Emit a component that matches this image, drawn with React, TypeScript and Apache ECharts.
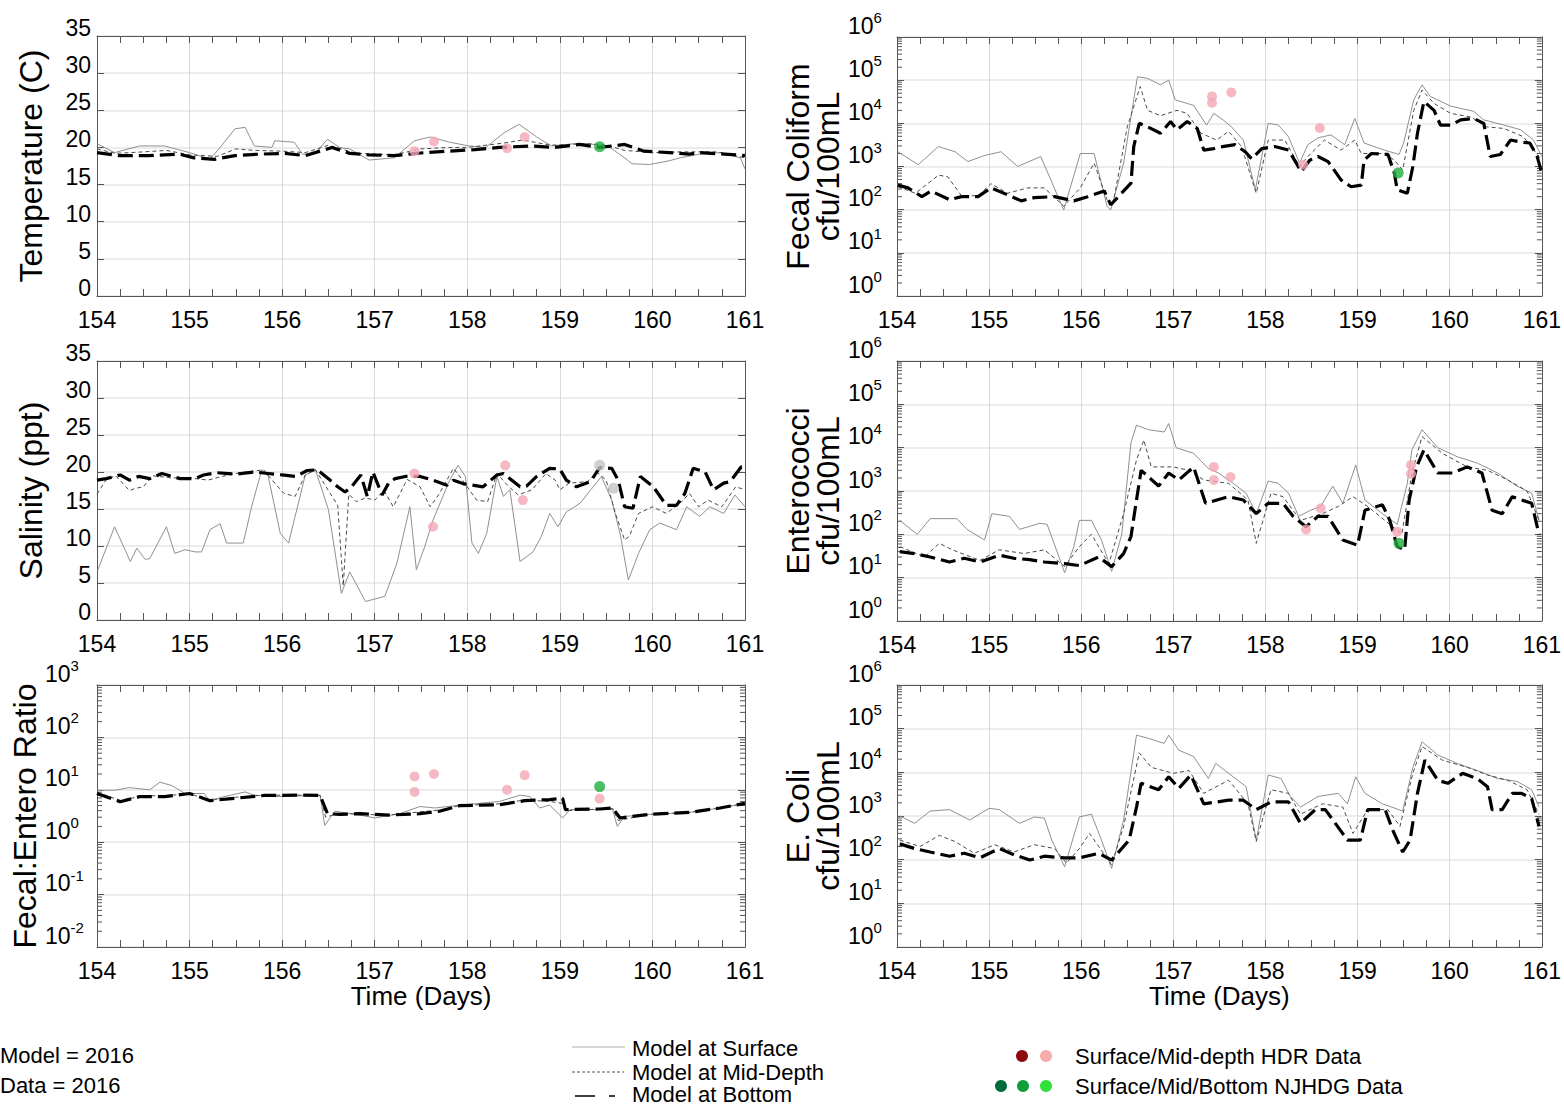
import React, { useEffect, useRef } from 'react';
import * as echarts from 'echarts';

// ---------------- data (time in days, value) ----------------
const dayTicks = [154, 155, 156, 157, 158, 159, 160, 161];

const tempSurface = [[154.0,20.5],[154.19,19.3],[154.46,20.2],[154.73,20.2],[155.0,19.3],[155.22,18.4],[155.33,20.0],[155.49,22.5],[155.6,22.7],[155.7,20.2],[155.89,20.0],[155.92,20.9],[156.13,20.7],[156.22,19.1],[156.35,19.1],[156.49,21.1],[156.62,20.0],[156.73,19.8],[156.94,18.3],[157.21,18.6],[157.43,20.9],[157.6,21.4],[157.81,20.7],[158.02,20.2],[158.2,20.0],[158.4,22.0],[158.56,23.1],[158.75,21.4],[158.91,20.2],[159.15,20.5],[159.32,20.5],[159.54,20.0],[159.7,18.6],[159.78,17.8],[159.97,17.7],[160.18,18.2],[160.3,18.6],[160.51,19.1],[160.73,19.3],[160.95,18.6],[161.0,17.1]];
const tempMid = [[154.0,19.8],[154.2,19.2],[154.5,19.4],[154.75,19.6],[155.0,19.0],[155.3,18.8],[155.5,19.8],[155.7,19.6],[156.0,19.5],[156.25,19.3],[156.5,20.3],[156.8,19.2],[157.2,19.0],[157.5,19.8],[157.8,20.0],[158.0,20.0],[158.4,20.6],[158.6,21.0],[158.9,20.3],[159.3,20.5],[159.5,20.3],[159.7,19.6],[160.0,19.3],[160.3,19.4],[160.7,19.4],[161.0,18.6]];
const tempBottom = [[154.0,19.3],[154.24,18.9],[154.56,18.9],[154.89,19.1],[155.05,18.6],[155.27,18.4],[155.49,18.9],[155.76,19.1],[156.03,19.2],[156.25,18.9],[156.54,20.0],[156.73,19.2],[156.94,19.0],[157.21,18.9],[157.54,19.3],[157.81,19.5],[158.08,19.7],[158.35,20.0],[158.68,20.2],[158.94,20.0],[159.21,20.4],[159.43,20.0],[159.7,20.4],[159.91,19.5],[160.18,19.3],[160.4,19.1],[160.51,19.3],[160.78,19.1],[161.0,18.9]];
const tempHdr = [[157.43,19.5],[157.64,20.8],[158.43,19.9],[158.62,21.4]];
const tempNjhdg = [[159.43,20.1]];

const salSurface = [[154.01,6.8],[154.19,12.6],[154.36,7.9],[154.43,9.7],[154.52,8.2],[154.57,8.3],[154.75,12.6],[154.84,9.0],[154.95,9.5],[155.06,9.2],[155.13,9.2],[155.22,12.2],[155.33,13.0],[155.4,10.4],[155.58,10.4],[155.67,15.3],[155.78,20.3],[155.85,19.4],[155.98,11.7],[156.07,10.4],[156.14,14.0],[156.25,19.6],[156.36,20.3],[156.5,14.9],[156.64,3.6],[156.73,6.5],[156.9,2.5],[157.11,3.2],[157.24,7.7],[157.38,15.3],[157.45,6.8],[157.54,9.9],[157.63,13.5],[157.81,18.9],[157.9,20.9],[157.98,19.4],[158.05,10.4],[158.12,9.0],[158.21,11.7],[158.32,19.4],[158.39,16.7],[158.46,17.6],[158.57,7.9],[158.71,9.2],[158.8,11.3],[158.89,14.4],[158.98,12.6],[159.07,14.6],[159.22,15.8],[159.36,18.0],[159.45,19.4],[159.56,16.2],[159.65,11.7],[159.74,5.4],[159.85,9.0],[159.97,12.2],[160.08,13.1],[160.26,12.2],[160.37,15.3],[160.51,14.0],[160.62,15.3],[160.77,14.4],[160.89,16.9],[161.0,15.3]];
const salMid = [[154.0,17.0],[154.1,19.0],[154.2,19.5],[154.35,17.5],[154.42,17.8],[154.5,18.0],[154.6,19.5],[154.8,19.2],[155.0,19.2],[155.2,18.9],[155.35,19.4],[155.5,19.8],[155.8,20.3],[155.92,18.5],[156.02,17.1],[156.14,16.7],[156.25,19.6],[156.36,20.3],[156.5,17.5],[156.6,15.5],[156.66,4.6],[156.72,17.0],[156.8,16.0],[156.9,16.5],[157.0,16.2],[157.1,17.5],[157.2,15.3],[157.35,19.0],[157.49,18.0],[157.6,15.3],[157.7,17.1],[157.85,20.5],[157.95,18.9],[158.1,16.2],[158.22,16.0],[158.32,19.8],[158.45,18.0],[158.55,16.9],[158.7,17.6],[158.85,19.8],[158.95,18.9],[159.0,17.6],[159.1,18.5],[159.3,18.7],[159.4,20.0],[159.5,18.9],[159.6,14.4],[159.7,10.8],[159.75,11.3],[159.85,14.4],[160.0,15.3],[160.15,14.4],[160.3,15.8],[160.4,17.1],[160.5,15.3],[160.6,16.2],[160.75,15.3],[160.9,18.0],[161.0,17.6]];
const salBottom = [[154.0,18.9],[154.1,19.1],[154.25,19.6],[154.35,18.9],[154.45,19.4],[154.57,19.1],[154.7,19.8],[154.9,19.1],[155.06,19.1],[155.15,19.6],[155.3,19.9],[155.5,19.7],[155.7,20.0],[155.85,19.8],[156.0,19.6],[156.15,19.4],[156.27,20.2],[156.38,20.3],[156.5,19.1],[156.6,18.0],[156.68,17.3],[156.75,18.0],[156.85,19.6],[156.92,16.7],[156.98,20.0],[157.08,16.9],[157.15,18.5],[157.22,19.1],[157.33,19.4],[157.49,19.4],[157.63,18.9],[157.78,18.2],[157.85,18.9],[157.96,18.4],[158.17,18.0],[158.32,19.6],[158.39,19.8],[158.57,18.0],[158.64,18.1],[158.75,19.4],[158.89,20.5],[159.0,20.4],[159.07,18.9],[159.18,18.0],[159.33,18.7],[159.43,20.6],[159.56,20.5],[159.63,18.9],[159.7,15.3],[159.79,15.1],[159.87,19.4],[160.01,18.0],[160.15,15.5],[160.26,15.5],[160.35,17.1],[160.44,20.5],[160.57,20.0],[160.66,17.6],[160.77,18.5],[160.84,18.7],[160.96,20.7],[161.0,20.5]];
const salHdr = [[157.43,19.8],[157.63,12.6],[158.41,20.9],[158.6,16.2]];
const salNjhdg = [[159.43,20.9],[159.58,17.8]];

const ratioSurface = [[154.0,9.8],[154.19,9.8],[154.35,11],[154.57,10],[154.68,14],[154.81,12],[154.95,8.5],[155.16,8.5],[155.22,5.9],[155.33,7.1],[155.6,9.1],[155.7,7.9],[155.92,7.4],[156.41,7.9],[156.46,2.1],[156.57,3.9],[156.84,3.3],[157.0,2.9],[157.27,3.5],[157.49,4.8],[157.65,4.5],[157.92,5.1],[158.35,6.0],[158.57,7.9],[158.68,7.4],[158.78,4.5],[158.89,5.1],[159.03,2.9],[159.11,4.2],[159.57,4.2],[159.62,2.0],[159.7,3.1],[159.97,3.4],[160.4,3.7],[160.73,4.5],[161.0,5.5]];
const ratioMid = [[154.0,8.9],[154.25,6.3],[154.5,7.6],[154.75,7.8],[155.0,8.3],[155.22,6.5],[155.5,7.2],[155.8,7.9],[156.2,7.9],[156.41,7.8],[156.47,3.0],[156.62,3.6],[156.84,3.4],[157.16,3.3],[157.49,3.8],[157.7,4.1],[157.92,5.0],[158.35,5.4],[158.62,6.4],[158.89,6.0],[159.03,5.5],[159.08,4.0],[159.43,4.3],[159.57,4.4],[159.63,2.6],[159.97,3.4],[160.4,3.7],[160.73,4.5],[161.0,5.5]];
const ratioBottom = [[154.0,8.5],[154.25,5.9],[154.46,7.4],[154.73,7.4],[155.0,8.5],[155.22,6.2],[155.49,6.9],[155.81,7.8],[156.19,7.9],[156.41,7.8],[156.49,3.5],[156.62,3.4],[156.84,3.5],[157.16,3.3],[157.49,3.5],[157.7,3.9],[157.92,5.0],[158.35,5.2],[158.62,6.2],[158.89,6.5],[159.03,6.9],[159.06,4.2],[159.43,4.3],[159.57,4.5],[159.65,2.9],[159.97,3.4],[160.4,3.7],[160.73,4.5],[161.0,5.5]];
const ratioHdr = [[157.43,18],[157.43,9.1],[157.64,20],[158.43,10],[158.62,19],[159.43,6.8]];
const ratioNjhdg = [[159.43,11.5]];

const fecalSurface = [[154.01,2200],[154.23,1100],[154.45,2900],[154.63,2200],[154.77,1300],[154.95,1800],[155.13,2200],[155.31,1000],[155.56,1700],[155.67,490],[155.81,98],[155.99,2000],[156.14,2000],[156.28,120],[156.32,98],[156.46,1200],[156.61,120000],[156.72,110000],[156.86,78000],[156.95,100000],[157.02,35000],[157.22,26000],[157.36,9100],[157.44,17000],[157.54,12000],[157.63,8300],[157.76,4100],[157.89,290],[158.03,10000],[158.14,9100],[158.25,4900],[158.37,1200],[158.46,3200],[158.57,4600],[158.71,5400],[158.86,3200],[158.97,13000],[159.07,3500],[159.29,2400],[159.45,1900],[159.5,3500],[159.61,35000],[159.7,78000],[159.79,42000],[160.01,25000],[160.26,19000],[160.37,12000],[160.59,9100],[160.77,7100],[160.91,4100],[161.0,1700]];
const fecalMid = [[154.01,340],[154.2,240],[154.45,630],[154.55,580],[154.7,210],[154.88,210],[155.02,400],[155.2,240],[155.42,320],[155.6,320],[155.81,120],[155.99,320],[156.14,1200],[156.28,170],[156.34,120],[156.5,8300],[156.64,71000],[156.72,20000],[156.86,15000],[157.04,20000],[157.15,17000],[157.3,5900],[157.47,4100],[157.6,6500],[157.74,2900],[157.9,240],[158.03,4100],[158.21,4100],[158.37,1000],[158.46,1700],[158.64,4100],[158.82,2400],[158.97,4100],[159.04,2000],[159.29,2000],[159.4,1400],[159.49,830],[159.61,20000],[159.7,59000],[159.83,29000],[160.01,17000],[160.23,14000],[160.4,8300],[160.59,7600],[160.8,4900],[161.0,1400]];
const fecalBottom = [[154.01,370],[154.12,320],[154.27,200],[154.37,270],[154.57,170],[154.7,200],[154.88,200],[155.02,320],[155.2,220],[155.35,160],[155.49,190],[155.71,200],[155.92,160],[156.07,200],[156.25,270],[156.32,130],[156.54,410],[156.57,2900],[156.63,10000],[156.72,8300],[156.86,5900],[156.97,11000],[157.04,7100],[157.15,11000],[157.26,7600],[157.33,2400],[157.44,2600],[157.49,2800],[157.67,3200],[157.78,2200],[157.85,1500],[157.96,2600],[158.1,2900],[158.25,2400],[158.39,760],[158.48,1400],[158.57,1700],[158.68,1300],[158.82,490],[158.93,340],[159.04,370],[159.07,1400],[159.15,2000],[159.33,1900],[159.4,690],[159.43,290],[159.54,240],[159.6,1000],[159.65,5900],[159.72,32000],[159.83,20000],[159.9,9100],[160.01,9100],[160.12,12000],[160.26,13000],[160.37,10000],[160.44,1700],[160.55,1900],[160.66,4100],[160.77,3700],[160.87,3500],[160.95,1700],[161.0,690]];
const fecalHdr = [[157.42,42000],[157.42,30000],[157.63,52000],[158.41,1100],[158.59,7800]];
const fecalNjhdg = [[159.44,710]];

const enteroSurface = [[154.03,210],[154.22,100],[154.36,230],[154.65,230],[154.76,130],[154.95,74],[155.03,300],[155.22,260],[155.33,130],[155.55,180],[155.63,170],[155.82,13],[155.92,52],[155.98,210],[156.11,210],[156.22,74],[156.33,14],[156.44,100],[156.54,13000],[156.6,33000],[156.73,26000],[156.9,23000],[156.95,36000],[157.03,10000],[157.22,7400],[157.38,3300],[157.49,2600],[157.65,1500],[157.79,890],[157.9,300],[158.03,1700],[158.14,1500],[158.25,890],[158.36,260],[158.49,360],[158.6,440],[158.73,1300],[158.84,520],[158.98,4000],[159.08,620],[159.27,300],[159.43,170],[159.54,1500],[159.59,8900],[159.7,26000],[159.87,10000],[160.08,6200],[160.3,4400],[160.52,2600],[160.73,1300],[160.89,890],[160.97,210]];
const enteroMid = [[154.03,52],[154.3,30],[154.46,62],[154.6,44],[154.9,25],[155.11,44],[155.38,36],[155.6,44],[155.82,18],[155.98,52],[156.11,100],[156.3,21],[156.46,300],[156.6,5200],[156.68,15000],[156.76,3600],[157.0,3600],[157.17,3000],[157.33,1800],[157.6,1500],[157.81,620],[157.9,62],[158.06,890],[158.19,740],[158.38,210],[158.62,300],[158.79,440],[158.95,740],[159.11,440],[159.38,150],[159.48,100],[159.59,2600],[159.7,18000],[159.92,7400],[160.19,3600],[160.41,3000],[160.63,1800],[160.84,1000],[160.97,210]];
const enteroBottom = [[154.03,40],[154.19,36],[154.36,30],[154.57,23],[154.73,28],[154.9,23],[155.11,33],[155.27,28],[155.44,26],[155.6,23],[155.82,21],[155.98,19],[156.19,30],[156.33,18],[156.46,36],[156.54,89],[156.6,620],[156.65,3000],[156.84,1300],[156.95,2600],[157.06,1800],[157.22,3600],[157.35,520],[157.6,740],[157.76,620],[157.9,300],[158.03,520],[158.19,520],[158.3,260],[158.44,150],[158.57,260],[158.68,260],[158.84,74],[159.0,56],[159.08,360],[159.27,480],[159.35,210],[159.43,52],[159.51,44],[159.56,620],[159.64,3600],[159.72,8900],[159.87,2600],[160.03,2600],[160.19,3600],[160.35,2600],[160.46,360],[160.57,300],[160.68,740],[160.78,620],[160.89,520],[160.97,100]];
const enteroHdr = [[157.44,3600],[157.44,1800],[157.62,2100],[158.44,130],[158.6,400],[159.43,115],[159.58,4000],[159.58,2500]];
const enteroNjhdg = [[159.45,62]];

const ecoliSurface = [[154.03,1000],[154.19,680],[154.36,1300],[154.57,1400],[154.79,810],[155.0,1500],[155.11,1400],[155.33,680],[155.49,950],[155.6,890],[155.68,280],[155.82,69],[155.98,950],[156.11,1100],[156.22,280],[156.33,63],[156.46,810],[156.6,71000],[156.73,60000],[156.9,46000],[156.95,71000],[157.06,32000],[157.22,23000],[157.38,7200],[157.46,16000],[157.65,7900],[157.79,4700],[157.9,280],[158.03,8700],[158.17,7200],[158.27,2800],[158.38,1600],[158.57,2800],[158.79,3300],[158.89,1900],[158.98,7900],[159.08,3300],[159.27,1900],[159.49,1300],[159.6,13000],[159.7,50000],[159.87,25000],[160.08,16000],[160.3,11000],[160.52,7200],[160.73,6200],[160.89,4000],[160.97,1600]];
const ecoliMid = [[154.03,280],[154.25,200],[154.46,360],[154.63,260],[154.84,140],[155.06,220],[155.27,150],[155.49,220],[155.71,180],[155.84,83],[155.98,180],[156.09,400],[156.33,76],[156.46,580],[156.63,28000],[156.76,13000],[157.0,9500],[157.17,11000],[157.33,3300],[157.6,6600],[157.81,1900],[157.9,260],[158.06,4000],[158.25,3300],[158.38,1100],[158.62,1900],[158.84,1600],[158.95,400],[159.11,1400],[159.33,1400],[159.46,580],[159.6,9500],[159.7,39000],[159.92,19000],[160.19,13000],[160.41,8700],[160.63,6600],[160.84,4000],[160.97,1100]];
const ecoliBottom = [[154.03,230],[154.19,180],[154.36,150],[154.57,120],[154.73,140],[154.9,110],[155.11,180],[155.27,130],[155.44,98],[155.6,120],[155.82,110],[155.98,110],[156.19,140],[156.33,98],[156.52,280],[156.6,1600],[156.65,5600],[156.84,4000],[156.95,7900],[157.06,4300],[157.19,8700],[157.33,1900],[157.6,2300],[157.76,2300],[157.9,1400],[158.06,2100],[158.25,2100],[158.38,680],[158.54,1400],[158.65,1400],[158.81,480],[158.89,280],[159.03,280],[159.11,1400],[159.3,1400],[159.38,480],[159.49,150],[159.57,280],[159.65,3300],[159.73,19000],[159.87,6600],[159.98,5600],[160.14,9500],[160.3,7200],[160.41,4700],[160.46,1400],[160.57,1400],[160.68,3300],[160.78,3300],[160.89,2500],[160.97,580]];

// ---------------- styling ----------------
const FONT = "'Liberation Sans', Arial, Helvetica, sans-serif";
const AX = '#555555';
const PINK = '#f4a8b4';
const GREEN = '#1fae3c';
const GRAYPT = '#c4c4c4';
const LOG_MANTISSA = [2, 3, 4, 5, 6, 7, 8, 9];

type Panel = {
  left: number; top: number; height: number; log: boolean; min: number; max: number;
  name: string; xName: string; surface: number[][]; mid: number[][]; bottom: number[][];
  hdr: number[][]; njhdg: number[][]; njColor: string;
};

const panels: Panel[] = [
  { left: 97, top: 36, height: 260, log: false, min: 0, max: 35, name: 'Temperature (C)', xName: '', surface: tempSurface, mid: tempMid, bottom: tempBottom, hdr: tempHdr, njhdg: tempNjhdg, njColor: GREEN },
  { left: 897, top: 37, height: 259, log: true, min: 1, max: 1e6, name: 'Fecal Coliform\ncfu/100mL', xName: '', surface: fecalSurface, mid: fecalMid, bottom: fecalBottom, hdr: fecalHdr, njhdg: fecalNjhdg, njColor: GREEN },
  { left: 97, top: 361, height: 259, log: false, min: 0, max: 35, name: 'Salinity (ppt)', xName: '', surface: salSurface, mid: salMid, bottom: salBottom, hdr: salHdr, njhdg: salNjhdg, njColor: GRAYPT },
  { left: 897, top: 361, height: 260, log: true, min: 1, max: 1e6, name: 'Enterococci\ncfu/100mL', xName: '', surface: enteroSurface, mid: enteroMid, bottom: enteroBottom, hdr: enteroHdr, njhdg: enteroNjhdg, njColor: GREEN },
  { left: 97, top: 685, height: 262, log: true, min: 0.01, max: 1000, name: 'Fecal:Entero Ratio', xName: 'Time (Days)', surface: ratioSurface, mid: ratioMid, bottom: ratioBottom, hdr: ratioHdr, njhdg: ratioNjhdg, njColor: GREEN },
  { left: 897, top: 685, height: 262, log: true, min: 1, max: 1e6, name: 'E. Coli\ncfu/100mL', xName: 'Time (Days)', surface: ecoliSurface, mid: ecoliMid, bottom: ecoliBottom, hdr: [], njhdg: [], njColor: GREEN },
];

function logLabel(v: number) {
  const e = Math.round(Math.log10(v));
  return `{b|10}{s|${e}}`;
}

function buildOption() {
  const grid: any[] = [];
  const xAxis: any[] = [];
  const yAxis: any[] = [];
  const series: any[] = [];
  const tickStyle = { color: AX, width: 1 };
  panels.forEach((p, i) => {
    grid.push({ left: p.left, top: p.top, width: 648, height: p.height });
    xAxis.push({
      gridIndex: i, type: 'value', min: dayTicks[0], max: dayTicks[dayTicks.length - 1], interval: 1, position: 'bottom',
      name: p.xName, nameLocation: 'middle', nameGap: 36,
      nameTextStyle: { fontSize: 26, fontFamily: FONT, color: '#000' },
      axisLine: { show: true, onZero: false, lineStyle: tickStyle },
      axisTick: { show: true, inside: true, length: 7, lineStyle: tickStyle },
      minorTick: { show: true, splitNumber: 4, length: 7, lineStyle: tickStyle },
      axisLabel: { margin: 12, fontSize: 23, color: '#000', fontFamily: FONT },
      splitLine: { show: true, lineStyle: { color: '#dadada', width: 1 } },
    });
    xAxis.push({
      gridIndex: i, type: 'value', min: dayTicks[0], max: dayTicks[dayTicks.length - 1], interval: 1, position: 'top',
      axisLine: { show: true, onZero: false, lineStyle: tickStyle },
      axisTick: { show: true, inside: true, length: 7, lineStyle: tickStyle },
      minorTick: { show: true, splitNumber: 4, length: 7, lineStyle: tickStyle },
      axisLabel: { show: false }, splitLine: { show: false },
    });
    const yBase: any = p.log
      ? { type: 'log', logBase: 10, min: p.min, max: p.max, splitNumber: Math.round(Math.log10(p.max / p.min)) }
      : { type: 'value', min: p.min, max: p.max, interval: 5 };
    yAxis.push({
      ...yBase, gridIndex: i, position: 'left',
      name: p.name, nameLocation: 'middle', nameGap: p.log && p.name.includes('\n') ? 52 : 51,
      nameTextStyle: { fontSize: 32, fontFamily: FONT, color: '#000', lineHeight: 30 },
      axisLine: { show: true, onZero: false, lineStyle: tickStyle },
      axisTick: { show: true, inside: true, length: 7, lineStyle: tickStyle },
      axisLabel: p.log
        ? {
            formatter: logLabel, align: 'left', verticalAlign: 'bottom', margin: p.left < 500 ? 52 : 49,
            rich: {
              b: { fontSize: 23, fontFamily: FONT, color: '#000', lineHeight: 18, verticalAlign: 'bottom' },
              s: { fontSize: 15, fontFamily: FONT, color: '#000', lineHeight: 14, padding: [0, 0, 12, 0], verticalAlign: 'bottom' },
            },
          }
        : { margin: 6, fontSize: 23, color: '#000', fontFamily: FONT, verticalAlign: 'bottom', lineHeight: 16 },
      splitLine: { show: true, lineStyle: { color: '#e6e6e6', width: 1.5 } },
    });
    yAxis.push({
      ...yBase, gridIndex: i, position: 'right',
      axisLine: { show: true, onZero: false, lineStyle: tickStyle },
      axisTick: { show: true, inside: true, length: 7, lineStyle: tickStyle },
      axisLabel: { show: false }, splitLine: { show: false },
    });
    const xi = i * 2;
    const yi = i * 2;
    series.push({ type: 'line', xAxisIndex: xi, yAxisIndex: yi, data: p.surface, symbol: 'none', z: 2,
      lineStyle: { color: '#8f8f8f', width: 1 } });
    series.push({ type: 'line', xAxisIndex: xi, yAxisIndex: yi, data: p.mid, symbol: 'none', z: 3,
      lineStyle: { color: '#4a4a4a', width: 1, type: [4, 3] } });
    series.push({ type: 'line', xAxisIndex: xi, yAxisIndex: yi, data: p.bottom, symbol: 'none', z: 4,
      lineStyle: { color: '#000', width: 3.2, type: [15, 6] } });
    if (p.hdr.length) series.push({ type: 'scatter', xAxisIndex: xi, yAxisIndex: yi, data: p.hdr, symbol: 'circle', symbolSize: 10, z: 5,
      itemStyle: { color: PINK } });
    if (p.njhdg.length) series.push({ type: 'scatter', xAxisIndex: xi, yAxisIndex: yi, data: p.njhdg, symbol: 'circle', symbolSize: 11, z: 6,
      itemStyle: { color: p.njColor } });
    if (p.log) {
      const ticks: number[][] = [];
      const e0 = Math.round(Math.log10(p.min));
      const e1 = Math.round(Math.log10(p.max));
      for (let e = e0; e < e1; e++) for (const m of LOG_MANTISSA) ticks.push([154, m * Math.pow(10, e)]);
      series.push({
        type: 'custom', xAxisIndex: xi, yAxisIndex: yi, data: ticks, silent: true, z: 1,
        encode: { x: 0, y: 1 },
        renderItem: (_params: any, api: any) => {
          const v = api.value(1);
          const l = api.coord([154, v]);
          const r = api.coord([161, v]);
          return {
            type: 'group',
            children: [
              { type: 'line', shape: { x1: l[0], y1: l[1], x2: l[0] + 5, y2: l[1] }, style: { stroke: AX, lineWidth: 1 } },
              { type: 'line', shape: { x1: r[0] - 5, y1: r[1], x2: r[0], y2: r[1] }, style: { stroke: AX, lineWidth: 1 } },
            ],
          };
        },
      });
    }
  });

  const txt = (text: string, x: number, y: number, size = 22) => ({
    type: 'text', x, y, silent: true,
    style: { text, fontSize: size, fontFamily: FONT, fill: '#000', align: 'left', verticalAlign: 'middle', textAlign: 'left', textVerticalAlign: 'middle' },
  });
  const graphic: any[] = [
    txt('Model = 2016', 0, 1055),
    txt('Data = 2016', 0, 1085),
    { type: 'line', shape: { x1: 572, y1: 1047, x2: 625, y2: 1047 }, style: { stroke: '#c8c8c8', lineWidth: 1.5 } },
    { type: 'line', shape: { x1: 572, y1: 1072, x2: 624, y2: 1072 }, style: { stroke: '#555', lineWidth: 1, lineDash: [3, 2] } },
    { type: 'line', shape: { x1: 575, y1: 1096, x2: 622, y2: 1096 }, style: { stroke: '#000', lineWidth: 1.5, lineDash: [20, 14, 6, 40] } },
    txt('Model at Surface', 632, 1048),
    txt('Model at Mid-Depth', 632, 1072),
    txt('Model at Bottom', 632, 1094),
    { type: 'circle', shape: { cx: 1022, cy: 1056, r: 6 }, style: { fill: '#8b0a0a' } },
    { type: 'circle', shape: { cx: 1046, cy: 1056, r: 6 }, style: { fill: '#f7aaa8' } },
    { type: 'circle', shape: { cx: 1001, cy: 1086, r: 6 }, style: { fill: '#006b3c' } },
    { type: 'circle', shape: { cx: 1023, cy: 1086, r: 6 }, style: { fill: '#0f9d3a' } },
    { type: 'circle', shape: { cx: 1046, cy: 1086, r: 6 }, style: { fill: '#2fe03a' } },
    txt('Surface/Mid-depth HDR Data', 1075, 1056),
    txt('Surface/Mid/Bottom NJHDG Data', 1075, 1086),
  ];

  return { animation: false, backgroundColor: '#ffffff', grid, xAxis, yAxis, series, graphic };
}

export default function App() {
  const ref = useRef<HTMLDivElement>(null);
  useEffect(() => {
    if (!ref.current) return;
    const chart = echarts.init(ref.current, undefined, { renderer: 'svg' });
    chart.setOption(buildOption() as any);
    return () => chart.dispose();
  }, []);
  return <div ref={ref} style={{ position: 'fixed', left: 0, top: 0, width: 1564, height: 1107, background: '#fff' }} />;
}
